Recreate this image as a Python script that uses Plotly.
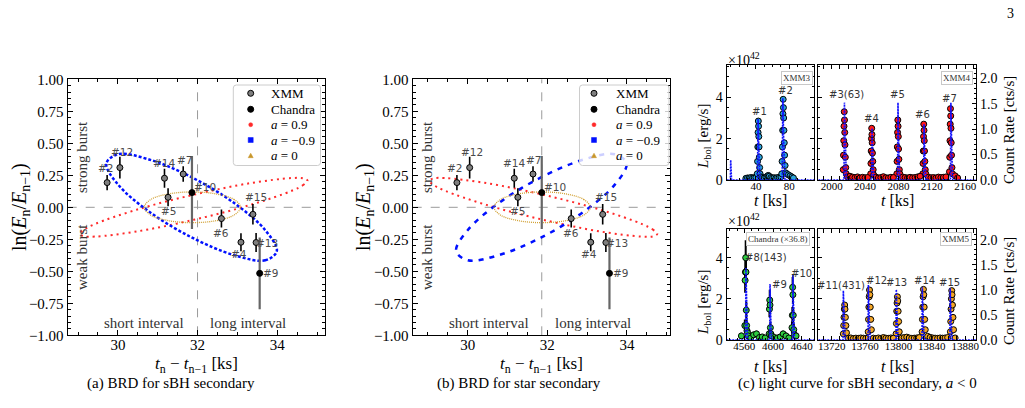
import plotly.graph_objects as go

W, H = 1025, 408
SERIF = "Liberation Serif, DejaVu Serif, serif"
SANS = "DejaVu Sans, Arial, sans-serif"


def px(v):
    return v / W


def py(v):
    return 1 - v / H


# ---------------- BRD data (panels a and b) ----------------
burst_labels = ["#2", "#4", "#5", "#6", "#7", "#9", "#10", "#12", "#13", "#14", "#15"]
burst_interval = [29.73, 33.09, 31.26, 32.60, 31.64, 33.56, 31.86, 30.05, 33.47, 31.17, 33.39]
burst_lnratio = [0.193, -0.273, 0.078, -0.088, 0.26, -0.516, 0.115, 0.31, -0.275, 0.227, -0.055]
burst_err = [0.06, 0.07, 0.07, 0.07, 0.06, 0.28, 0.285, 0.085, 0.075, 0.075, 0.08]
burst_instr = ["XMM", "XMM", "XMM", "XMM", "XMM", "Chandra", "Chandra", "XMM", "XMM", "XMM", "XMM"]

# model ellipses; panel (b) is the same with y mirrored
ell_red_x = [34.76, 34.66, 34.38, 33.33, 31.9, 30.47, 29.42, 29.14, 29.04, 29.14, 29.42, 30.47, 31.9, 33.33, 34.38, 34.66, 34.76]
ell_red_y = [0.208, 0.176, 0.131, 0.019, -0.098, -0.189, -0.229, -0.226, -0.208, -0.176, -0.131, -0.019, 0.098, 0.189, 0.229, 0.226, 0.208]
ell_blue_x = [33.99, 33.70, 32.92, 31.85, 30.78, 30.0, 29.71, 30.0, 30.78, 31.85, 32.92, 33.70, 33.99]
ell_blue_y = [-0.342, -0.414, -0.374, -0.235, -0.033, 0.179, 0.342, 0.414, 0.374, 0.235, 0.033, -0.179, -0.342]
ell_yel_x = [33.08, 32.92, 32.475, 31.87, 31.265, 30.82, 30.66, 30.82, 31.265, 31.87, 32.475, 32.92, 33.08]
ell_yel_y = [0.0, 0.06, 0.104, 0.12, 0.104, 0.06, 0.0, -0.06, -0.104, -0.12, -0.104, -0.06, 0.0]

legend_names = ["XMM", "Chandra", "<i>a</i> = 0.9", "<i>a</i> = −0.9", "<i>a</i> = 0"]

# ---------------- light curves (panel c), L in 1e42 erg/s ----------------
xmm3_t = [28, 30, 32, 34, 36, 38, 40, 41.6, 42.0, 42.3, 42.6, 42.9, 43.2, 43.5, 43.8, 44.1, 44.5, 45.0,
          46, 48, 50, 52, 54, 55, 56, 58, 60, 62, 64, 66, 68, 70,
          71.0, 71.4, 71.8, 72.1, 72.4, 72.7, 73.0, 73.3, 73.6, 74.0, 74.4, 75.0, 75.6, 77, 79, 81, 83, 85]
xmm3_L = [0.08, 0.1, 0.09, 0.12, 0.1, 0.11, 0.13, 0.3, 0.9, 1.6, 2.3, 2.85, 2.6, 2.1, 1.6, 1.1, 0.6, 0.3,
          0.15, 0.12, 0.1, 0.14, 0.2, 0.22, 0.18, 0.12, 0.1, 0.11, 0.09, 0.12, 0.13, 0.15,
          0.3, 0.9, 1.6, 2.4, 3.2, 3.9, 3.5, 3.0, 2.4, 1.8, 1.2, 0.7, 0.35, 0.3, 0.25, 0.2, 0.15, 0.1]
xmm3_model_t = [5, 9.4, 9.8, 10.2, 10.8, 41.8, 42.6, 43.0, 43.5, 44.2, 45.0, 71.5, 72.3, 72.7, 73.2, 73.9, 74.8, 110]
xmm3_model_L = [0, 0, 0.97, 0.4, 0, 0, 2.95, 2.4, 1.5, 0.6, 0, 0, 3.95, 3.3, 2.1, 0.8, 0, 0]

xmm4_t = [2013.9, 2014.2, 2014.5, 2014.8, 2015.1, 2015.4, 2015.7, 2016.0, 2016.4, 2016.9, 2017.5,
          2046.8, 2047.1, 2047.4, 2047.7, 2048.0, 2048.3, 2048.6, 2048.9, 2049.3, 2049.8, 2050.4,
          2078.1, 2078.4, 2078.7, 2079.0, 2079.3, 2079.6, 2079.9, 2080.2, 2080.6, 2081.1, 2081.7,
          2109.2, 2109.5, 2109.8, 2110.1, 2110.4, 2110.7, 2111.0, 2111.3, 2111.7, 2112.2, 2112.8,
          2141.2, 2141.5, 2141.8, 2142.1, 2142.4, 2142.7, 2143.0, 2143.3, 2143.7, 2144.2, 2144.8,
          2019, 2022, 2025, 2028, 2031, 2034, 2037, 2040, 2043, 2053, 2056, 2059, 2062, 2065, 2068, 2071, 2074,
          2085, 2088, 2091, 2094, 2097, 2100, 2103, 2106, 2116, 2119, 2122, 2125, 2128, 2131, 2134, 2137, 2148, 2151]
xmm4_L = [0.5, 1.2, 1.9, 2.6, 3.3, 2.9, 2.3, 1.7, 1.1, 0.6, 0.3,
          0.3, 0.8, 1.4, 2.0, 2.5, 2.2, 1.8, 1.3, 0.9, 0.5, 0.25,
          0.3, 0.9, 1.6, 2.3, 2.9, 2.6, 2.1, 1.5, 1.0, 0.5, 0.3,
          0.3, 0.8, 1.4, 2.1, 2.7, 2.4, 1.9, 1.4, 0.9, 0.5, 0.3,
          0.4, 1.1, 1.9, 2.7, 3.45, 3.1, 2.5, 1.8, 1.2, 0.6, 0.3,
          0.15, 0.18, 0.14, 0.12, 0.15, 0.1, 0.13, 0.11, 0.12, 0.14, 0.1, 0.12, 0.16, 0.11, 0.1, 0.13, 0.12,
          0.14, 0.12, 0.1, 0.13, 0.11, 0.12, 0.15, 0.18, 0.13, 0.11, 0.12, 0.1, 0.14, 0.12, 0.13, 0.15, 0.2, 0.1]
xmm4_model_t = [1984, 2014.8, 2015.3, 2015.8, 2016.6, 2017.6, 2047.9, 2048.4, 2048.9, 2049.7, 2050.7,
                2079.0, 2079.5, 2080.0, 2080.8, 2081.8, 2110.2, 2110.7, 2111.2, 2112.0, 2113.0,
                2142.4, 2142.9, 2143.4, 2144.2, 2145.2, 2173]
xmm4_model_L = [0, 0, 3.74, 2.6, 1.0, 0, 0, 2.5, 1.8, 0.7, 0, 0, 3.74, 2.6, 1.0, 0,
                0, 2.7, 1.9, 0.75, 0, 0, 3.74, 2.6, 1.0, 0, 0]

cha_t = [4556, 4560.8, 4561.2, 4561.6, 4562.0, 4562.4, 4562.8, 4563.3, 4563.9, 4564.6, 4565.5,
         4569, 4573, 4577, 4581, 4585, 4589,
         4594.6, 4595.0, 4595.4, 4595.8, 4596.3, 4597, 4598, 4602, 4606, 4610, 4614, 4618, 4622,
         4626.3, 4626.8, 4627.2, 4627.6, 4628.1, 4628.8, 4629.8, 4632]
cha_L = [0.2, 0.7, 2.9, 3.3, 4.0, 3.3, 1.45, 0.7, 0.45, 0.35, 0.2,
         0.1, 0.25, 0.3, 0.12, 0.15, 0.1,
         0.3, 1.5, 1.94, 1.7, 0.6, 0.3, 0.2, 0.12, 0.1, 0.15, 0.3, 0.2, 0.1,
         0.6, 1.2, 2.56, 2.2, 1.2, 0.5, 0.25, 0.2]
cha_err = [0.15, 0.3, 0.6, 0.6, 0.85, 0.6, 0.4, 0.3, 0.2, 0.2, 0.15,
           0.1, 0.15, 0.15, 0.1, 0.1, 0.1,
           0.2, 0.4, 0.5, 0.4, 0.3, 0.2, 0.15, 0.1, 0.1, 0.1, 0.15, 0.15, 0.1,
           0.3, 0.4, 0.5, 0.45, 0.4, 0.3, 0.2, 0.15]
cha_model_t = [4535, 4561.8, 4562.3, 4562.8, 4563.6, 4564.6, 4595.3, 4595.8, 4596.3, 4597.1, 4598.1,
               4627.1, 4627.6, 4628.1, 4628.9, 4629.9, 4657]
cha_model_L = [0, 0, 3.5, 2.4, 0.9, 0, 0, 2.72, 1.9, 0.75, 0, 0, 3.2, 2.2, 0.85, 0, 0]

xmm5_t = [13734.0, 13734.4, 13734.8, 13735.2, 13735.6, 13736.0, 13736.5, 13737.1, 13737.8,
          13763.8, 13764.2, 13764.6, 13765.0, 13765.4, 13765.8, 13766.3, 13766.9, 13767.6,
          13797.2, 13797.6, 13798.0, 13798.4, 13798.8, 13799.2, 13799.7, 13800.3, 13801.0,
          13828.4, 13828.8, 13829.2, 13829.6, 13830.0, 13830.4, 13830.9, 13831.5, 13832.2,
          13862.3, 13862.7, 13863.1, 13863.5, 13863.9, 13864.3, 13864.8, 13865.4, 13866.1,
          13740, 13743, 13746, 13749, 13752, 13755, 13758, 13761, 13770, 13773, 13776, 13779, 13782,
          13785, 13788, 13791, 13794, 13804, 13807, 13810, 13813, 13816, 13819, 13822, 13825, 13835,
          13838, 13841, 13844, 13847, 13850, 13853, 13856, 13859, 13868]
xmm5_L = [0.3, 0.7, 1.1, 1.5, 1.7, 1.5, 1.1, 0.7, 0.35,
          0.4, 1.0, 1.6, 2.1, 2.43, 2.2, 1.6, 1.0, 0.5,
          0.3, 0.8, 1.4, 1.8, 2.1, 1.9, 1.4, 0.9, 0.4,
          0.4, 1.0, 1.6, 2.1, 2.46, 2.2, 1.6, 1.0, 0.5,
          0.4, 0.9, 1.5, 2.0, 2.4, 2.2, 1.7, 1.1, 0.5,
          0.08, 0.1, 0.07, 0.09, 0.08, 0.1, 0.09, 0.08, 0.09, 0.07, 0.1, 0.08, 0.12,
          0.09, 0.08, 0.1, 0.09, 0.1, 0.12, 0.14, 0.1, 0.08, 0.09, 0.1, 0.12, 0.18,
          0.13, 0.1, 0.09, 0.08, 0.1, 0.09, 0.1, 0.12, 0.1]
xmm5_model_t = [13704, 13733.6, 13734.0, 13734.5, 13735.3, 13736.3, 13763.6, 13764.0, 13764.5, 13765.3, 13766.3,
                13797.1, 13797.5, 13798.0, 13798.8, 13799.8, 13828.3, 13828.7, 13829.2, 13830.0, 13831.0,
                13861.7, 13862.1, 13862.6, 13863.4, 13864.4, 13893]
xmm5_model_L = [0, 0, 2.4, 1.7, 0.7, 0, 0, 2.67, 1.9, 0.8, 0, 0, 2.46, 1.75, 0.7, 0,
                0, 2.56, 1.8, 0.75, 0, 0, 2.51, 1.8, 0.75, 0, 0]

# flare labels (text, t, L) per light-curve panel
lab_xmm3 = [("#1", 44.0, 3.3), ("#2", 75.7, 4.35)]
lab_xmm4 = [("#3(63)", 2018, 4.11), ("#4", 2048, 2.98), ("#5", 2079, 4.11), ("#6", 2109, 3.19), ("#7", 2141, 3.95)]
lab_cha = [("#8(143)", 4589.8, 4.0), ("#9", 4608.7, 2.71), ("#10", 4640.2, 3.24)]
lab_xmm5 = [("#11(431)", 13731.0, 2.67), ("#12", 13773.5, 2.87), ("#13", 13798, 2.78), ("#14", 13830.8, 2.88), ("#15", 13861.2, 2.8)]

# ---------------- figure ----------------
fig = go.Figure()
annotations = []
shapes = []


def pann(x, y, text, size, family=SERIF, color="black", angle=0, **kw):
    d = dict(x=px(x), y=py(y), xref="paper", yref="paper", text=text, showarrow=False,
             xanchor="center", yanchor="middle", textangle=angle,
             font=dict(family=family, size=size, color=color))
    d.update(kw)
    return d


label_shift = {"#2": (-2, 15), "#12": (2, 16), "#14": (0, 15), "#7": (1, 14), "#10": (13, 6),
               "#5": (0, -14), "#6": (0, -14), "#15": (3, 17), "#4": (-2, -12), "#13": (11, -1), "#9": (11, 0)}

for k, (xa, ya, vline, mirror) in enumerate([("x", "y", 32.0, 1), ("x2", "y2", 31.86, -1)]):
    shapes.append(dict(type="line", xref=xa, yref=f"{ya} domain", x0=vline, x1=vline, y0=0, y1=1,
                       line=dict(color="#9a9a9a", width=1, dash="dash"), layer="below"))
    shapes.append(dict(type="line", xref=f"{xa} domain", yref=ya, x0=0, x1=1, y0=0, y1=0,
                       line=dict(color="#9a9a9a", width=1, dash="dash"), layer="below"))
    fig.add_trace(go.Scatter(x=ell_red_x, y=[mirror * v for v in ell_red_y], mode="lines", xaxis=xa, yaxis=ya,
                             line=dict(color="#ff2a2a", width=2, dash="2px,4px", shape="spline", smoothing=1.0),
                             showlegend=False, hoverinfo="skip"))
    fig.add_trace(go.Scatter(x=ell_blue_x, y=[mirror * v for v in ell_blue_y], mode="lines", xaxis=xa, yaxis=ya,
                             line=dict(color="#0010ff", width=2.5,
                                       dash="3px,2px" if k == 0 else "5px,6px", shape="spline", smoothing=1.0),
                             showlegend=False, hoverinfo="skip"))
    fig.add_trace(go.Scatter(x=ell_yel_x, y=ell_yel_y, mode="lines", xaxis=xa, yaxis=ya,
                             line=dict(color="#d1a032", width=1.3, dash="1px,1px", shape="spline", smoothing=1.0),
                             showlegend=False, hoverinfo="skip"))
    for instr, fill, ecol, eth in [("XMM", "#7f7f7f", "black", 1.6), ("Chandra", "black", "#666666", 2.2)]:
        idx = [i for i, s in enumerate(burst_instr) if s == instr]
        fig.add_trace(go.Scatter(x=[burst_interval[i] for i in idx], y=[burst_lnratio[i] for i in idx],
                                 error_y=dict(type="data", array=[burst_err[i] for i in idx], color=ecol,
                                              thickness=eth, width=0),
                                 mode="markers", xaxis=xa, yaxis=ya, showlegend=False, hoverinfo="skip",
                                 marker=dict(color=fill, size=6, line=dict(color="black", width=1))))
    for i, lab in enumerate(burst_labels):
        dx, dy = label_shift[lab]
        annotations.append(dict(x=burst_interval[i], y=burst_lnratio[i], xref=xa, yref=ya, text=lab,
                                showarrow=False, xshift=dx, yshift=dy, xanchor="center", yanchor="middle",
                                font=dict(family=SANS, size=10.5, color="#4a4a4a")))

# hand-drawn legends (box, marker, text) for panels (a) and (b)
row_y = [93.3, 109.3, 124.7, 140.0, 155.7]
for bx0, bx1, mx, tx in [(233.3, 320.5, 250.7, 268.5), (579.5, 669.0, 594.0, 614.0)]:
    y0, y1, r = 85.0, 165.5, 3.0
    shapes.append(dict(
        type="path", xref="paper", yref="paper", layer="above",
        path=(f"M {px(bx0 + r)},{py(y0)} L {px(bx1 - r)},{py(y0)} Q {px(bx1)},{py(y0)} {px(bx1)},{py(y0 + r)} "
              f"L {px(bx1)},{py(y1 - r)} Q {px(bx1)},{py(y1)} {px(bx1 - r)},{py(y1)} "
              f"L {px(bx0 + r)},{py(y1)} Q {px(bx0)},{py(y1)} {px(bx0)},{py(y1 - r)} "
              f"L {px(bx0)},{py(y0 + r)} Q {px(bx0)},{py(y0)} {px(bx0 + r)},{py(y0)} Z"),
        fillcolor="rgba(255,255,255,0.8)", line=dict(color="#cccccc", width=1)))
    shapes.append(dict(type="circle", xref="paper", yref="paper", layer="above",
                       x0=px(mx - 3), x1=px(mx + 3), y0=py(row_y[0] + 3), y1=py(row_y[0] - 3),
                       fillcolor="#7f7f7f", line=dict(color="black", width=1)))
    shapes.append(dict(type="circle", xref="paper", yref="paper", layer="above",
                       x0=px(mx - 3), x1=px(mx + 3), y0=py(row_y[1] + 3), y1=py(row_y[1] - 3),
                       fillcolor="black", line=dict(color="black", width=1)))
    shapes.append(dict(type="circle", xref="paper", yref="paper", layer="above",
                       x0=px(mx - 2), x1=px(mx + 2), y0=py(row_y[2] + 2), y1=py(row_y[2] - 2),
                       fillcolor="#ff2a2a", line=dict(color="#ff2a2a", width=0.5)))
    shapes.append(dict(type="rect", xref="paper", yref="paper", layer="above",
                       x0=px(mx - 2.5), x1=px(mx + 2.5), y0=py(row_y[3] + 2.5), y1=py(row_y[3] - 2.5),
                       fillcolor="#0010ff", line=dict(color="#0010ff", width=0.5)))
    shapes.append(dict(type="path", xref="paper", yref="paper", layer="above",
                       path=(f"M {px(mx - 2.5)},{py(row_y[4] + 2)} L {px(mx + 2.5)},{py(row_y[4] + 2)} "
                             f"L {px(mx)},{py(row_y[4] - 2.5)} Z"),
                       fillcolor="#c8962a", line=dict(color="#c8962a", width=0.5)))
    for name, yy in zip(legend_names, row_y):
        annotations.append(pann(tx, yy, name, 13, xanchor="left"))

for off in (0, 345):
    annotations += [
        pann(82 + off, 157, "strong burst", 15, color="#333", angle=-90),
        pann(82 + off, 257, "weak burst", 15, color="#333", angle=-90),
        pann(144 + off, 323, "short interval", 15, color="#333"),
        pann(248 + off, 323, "long interval", 15, color="#333"),
        pann(196 + off, 365, "<i>t</i><sub>n</sub> − <i>t</i><sub>n−1</sub> [ks]", 17),
    ]
annotations += [
    pann(20, 207, "ln(<i>E</i><sub>n</sub>/<i>E</i><sub>n−1</sub>)", 20, angle=-90),
    pann(364, 207, "ln(<i>E</i><sub>n</sub>/<i>E</i><sub>n−1</sub>)", 20, angle=-90),
]

lc_panels = [
    ("x3", "y3", xmm3_t, xmm3_L, None, "#2aa3d8", xmm3_model_t, xmm3_model_L, lab_xmm3),
    ("x4", "y4", xmm4_t, xmm4_L, None, "#ff1a1a", xmm4_model_t, xmm4_model_L, lab_xmm4),
    ("x6", "y6", cha_t, cha_L, cha_err, "#2ecc40", cha_model_t, cha_model_L, lab_cha),
    ("x7", "y7", xmm5_t, xmm5_L, None, "#f5a623", xmm5_model_t, xmm5_model_L, lab_xmm5),
]
for xa, ya, tt, LL, ee, col, mt, mL, labs in lc_panels:
    err = dict(type="data", array=ee, color="black", thickness=2, width=0) if ee else \
        dict(type="constant", value=0.08, color="black", thickness=1, width=0)
    fig.add_trace(go.Scatter(x=tt, y=LL, mode="markers", xaxis=xa, yaxis=ya, showlegend=False, hoverinfo="skip",
                             error_y=err, marker=dict(color=col, size=6, line=dict(color="black", width=1))))
    fig.add_trace(go.Scatter(x=mt, y=mL, mode="lines", xaxis=xa, yaxis=ya, showlegend=False, hoverinfo="skip",
                             line=dict(color="#1010ff", width=1.6, dash="2px,1px")))
    for text, t, L in labs:
        annotations.append(dict(x=t, y=L, xref=xa, yref=ya, text=text, showarrow=False,
                                xanchor="center", yanchor="middle",
                                font=dict(family=SANS, size=10, color="#333")))

for text, cx, cy in [("XMM3", 796.7, 77.5), ("XMM4", 956.7, 77.5), ("Chandra (×36.8)", 778.3, 238.5), ("XMM5", 956, 238.5)]:
    annotations.append(pann(cx, cy, text, 9, color="#333", bgcolor="white", bordercolor="#c8c8c8",
                            borderwidth=1, borderpad=1))

for ytop in (0, 166):
    annotations += [
        pann(770, 200 + ytop, "<i>t</i> [ks]", 16),
        pann(897, 200 + ytop, "<i>t</i> [ks]", 16),
        pann(704, 137 + ytop, "<i>L</i><sub>bol</sub> [erg/s]", 15, angle=-90),
        pann(1009, 130 + ytop * 0.97, "Count Rate [cts/s]", 15, angle=-90),
        pann(744, 59 + ytop * 0.97, "×10<sup>42</sup>", 14),
    ]

annotations += [
    pann(171, 383, "(a) BRD for sBH secondary", 15),
    pann(519, 383, "(b) BRD for star secondary", 15),
    pann(857, 383, "(c) light curve for sBH secondary, <i>a</i> &lt; 0", 15),
    pann(1010, 13, "3", 14),
]


def axis_common(**kw):
    d = dict(showline=True, linecolor="black", linewidth=1.2, ticks="inside", ticklen=5, tickwidth=1,
             tickcolor="black", showgrid=False, zeroline=False, mirror="allticks", automargin=False,
             tickfont=dict(family=SERIF, size=15, color="black"))
    d.update(kw)
    return d


brd_y = dict(range=[-1, 1], dtick=0.25, tick0=0, tickformat=".2f",
             minor=dict(ticks="inside", ticklen=3, dtick=0.05, tickcolor="black"))
brd_x_minor = dict(ticks="inside", ticklen=3, dtick=0.5, tickcolor="black")

layout = dict(
    template="none", showlegend=False,
    width=W, height=H, margin=dict(l=0, r=0, t=0, b=0, pad=0, autoexpand=False), autosize=False,
    paper_bgcolor="white", plot_bgcolor="white",
    xaxis=axis_common(domain=[px(67.7), px(325)], range=[28.74, 35.2], dtick=2, tick0=0, anchor="y",
                      minor=brd_x_minor, ticklabelstandoff=-4),
    yaxis=axis_common(domain=[py(335.3), py(79.3)], anchor="x", **brd_y),
    xaxis2=axis_common(domain=[px(412.7), px(670)], range=[28.62, 35.08], dtick=2, tick0=0, anchor="y2",
                       minor=brd_x_minor, ticklabelstandoff=-4),
    yaxis2=axis_common(domain=[py(335.3), py(79.3)], anchor="x2", **brd_y),
)

lc_minor_x = dict(ticks="inside", ticklen=2, dtick=10, tickcolor="black")
lc_minor_y = dict(ticks="inside", ticklen=2, dtick=0.5, tickcolor="black")
xfont = dict(family=SERIF, size=11, color="black")
yfont = dict(family=SERIF, size=14, color="black")
top_dom = [py(180), py(65)]
bot_dom = [py(340), py(229.3)]
left_dom = [px(726.7), px(814.3)]
right_dom = [px(818.3), px(976)]
lcx = dict(tickfont=xfont, tickformat="d", minor=lc_minor_x, ticklen=4, dtick=40, tick0=0, ticklabelstandoff=-4)

layout.update(
    xaxis3=axis_common(domain=left_dom, range=[5, 110], anchor="y3", **lcx),
    yaxis3=axis_common(domain=top_dom, range=[0, 5.56], dtick=2, tick0=0, anchor="x3", tickfont=yfont,
                       minor=lc_minor_y, ticklen=4),
    xaxis4=axis_common(domain=right_dom, range=[1984, 2173], anchor="y4", **lcx),
    yaxis4=axis_common(domain=top_dom, range=[0, 5.56], dtick=2, tick0=0, anchor="x4", showticklabels=False,
                       mirror=False, minor=lc_minor_y, ticklen=4),
    yaxis5=axis_common(overlaying="y4", side="right", anchor="x4", range=[0, 2.26], dtick=0.5, tick0=0,
                       tickformat=".1f", tickfont=yfont, mirror=False, ticklen=4,
                       minor=dict(ticks="inside", ticklen=2, dtick=0.1, tickcolor="black")),
    xaxis6=axis_common(domain=left_dom, range=[4535.6, 4657.3], anchor="y6", **lcx),
    yaxis6=axis_common(domain=bot_dom, range=[0, 5.38], dtick=2, tick0=0, anchor="x6", tickfont=yfont,
                       minor=lc_minor_y, ticklen=4),
    xaxis7=axis_common(domain=right_dom, range=[13704, 13893], anchor="y7", **lcx),
    yaxis7=axis_common(domain=bot_dom, range=[0, 5.38], dtick=2, tick0=0, anchor="x7", showticklabels=False,
                       mirror=False, minor=lc_minor_y, ticklen=4),
    yaxis8=axis_common(overlaying="y7", side="right", anchor="x7", range=[0, 2.21], dtick=0.5, tick0=0,
                       tickformat=".1f", tickfont=yfont, mirror=False, ticklen=4,
                       minor=dict(ticks="inside", ticklen=2, dtick=0.1, tickcolor="black")),
)

layout["annotations"] = annotations
layout["shapes"] = shapes

fig.update_layout(**layout)
fig.add_trace(go.Scatter(x=[None], y=[None], xaxis="x4", yaxis="y5", showlegend=False))
fig.add_trace(go.Scatter(x=[None], y=[None], xaxis="x7", yaxis="y8", showlegend=False))

fig.write_html("out.html")
